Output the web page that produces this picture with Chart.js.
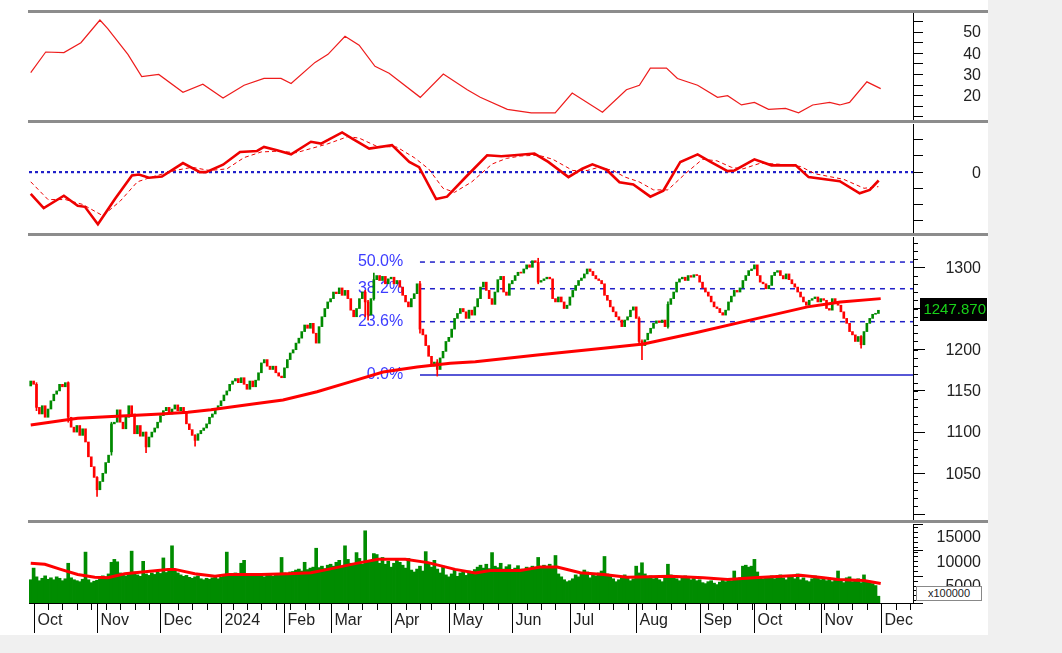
<!DOCTYPE html>
<html>
<head>
<meta charset="utf-8">
<script src="https://cdn.jsdelivr.net/npm/chart.js@4.4.1/dist/chart.umd.min.js"></script>
<style>
  body { margin: 0; width: 1062px; height: 653px; background: #f0f0f0; overflow: hidden; font-family: "Liberation Sans", Arial, sans-serif; }
  #sheet { position: absolute; left: 0; top: 0; width: 988px; height: 635px; background: #fff; }
  .sep { position: absolute; left: 28px; width: 960px; height: 3px; background: #8c8c8c; }
  .pane { position: absolute; left: 29px; width: 959px; }
  #unit { position: absolute; left: 916px; top: 586px; width: 64px; height: 13px; border: 1px solid #888; background: #fff;
          font-size: 11px; line-height: 13px; text-align: center; color: #222; }
</style>
</head>
<body>
<div id="sheet"></div>
<div class="sep" style="top:10px"></div>
<div class="pane" style="top:13px;height:107px"><canvas id="topChart"></canvas></div>
<div class="sep" style="top:120px"></div>
<div class="pane" style="top:124px;height:109px"><canvas id="macdChart"></canvas></div>
<div class="sep" style="top:233px"></div>
<div class="pane" style="top:237px;height:283px"><canvas id="priceChart"></canvas></div>
<div class="sep" style="top:520px"></div>
<div class="pane" style="top:524px;height:111px"><canvas id="volChart"></canvas></div>
<div id="unit">x100000</div>

<script>
const FONT = '"Liberation Sans", Arial, sans-serif';
const X_MIN = -0.6, X_MAX = 306;

// x axis: bar index of the first session of each month, and of each Monday
const monthLabels = ['Oct', 'Nov', 'Dec', '2024', 'Feb', 'Mar', 'Apr', 'May', 'Jun', 'Jul', 'Aug', 'Sep', 'Oct', 'Nov', 'Dec'];
const monthIdx = [1, 23, 45, 66, 88, 104, 125, 145, 167, 187, 210, 232, 251, 274, 295];
const weekIdx = [6, 11, 16, 21, 26, 31, 36, 41, 51, 56, 61, 70, 75, 80, 85, 90, 95, 100, 110, 115, 120,
  130, 135, 139, 147, 152, 157, 162, 172, 177, 182, 192, 197, 202, 207, 212, 217, 222, 227,
  235, 240, 245, 250, 255, 260, 265, 270, 275, 280, 285, 290, 300, 305];

// daily candles
const opens = [
  1156, 1162, 1158, 1130, 1122, 1132, 1118, 1128, 1138, 1146, 1150, 1158, 1155,
  1160, 1118, 1106, 1100, 1108, 1096, 1104, 1088, 1070, 1058, 1045, 1030, 1040, 1050, 1063,
  1076, 1110, 1112, 1127, 1112, 1104, 1118, 1132, 1122, 1098, 1108, 1095, 1100, 1082, 1094, 1100, 1105, 1112, 1120, 1126, 1130, 1122, 1128, 1133, 1126, 1130,
  1124, 1110, 1103, 1096, 1090, 1098, 1102, 1105, 1110, 1118, 1122, 1128, 1132, 1138, 1145, 1150, 1158, 1162, 1165, 1160, 1166, 1158, 1152, 1162,
  1155, 1163, 1172, 1184, 1188, 1180, 1176, 1180, 1172, 1168, 1166, 1178, 1188, 1196, 1200, 1208, 1214, 1222, 1230, 1226, 1232, 1220,
  1208, 1228, 1240, 1250, 1258, 1262, 1270, 1268, 1275, 1266, 1272, 1262, 1248, 1240, 1250, 1262, 1270, 1258, 1242, 1262, 1285, 1290, 1284, 1289, 1280, 1286, 1288, 1280, 1284, 1276, 1266, 1258, 1252, 1262, 1268,
  1280, 1225, 1218, 1205, 1192, 1180, 1185, 1176, 1190, 1198, 1210, 1215, 1225, 1238, 1244, 1250, 1246, 1238, 1248, 1242,
  1252, 1262, 1276, 1282, 1272, 1262, 1255, 1270, 1285, 1289, 1270, 1266, 1280, 1284, 1290, 1294, 1293, 1298, 1303, 1300, 1308, 1306, 1282, 1284, 1286, 1288,
  1286, 1262, 1258, 1264, 1258, 1250, 1254, 1264, 1272, 1278, 1284, 1287, 1292, 1298, 1295, 1290, 1286, 1284, 1280, 1266, 1260, 1252, 1246, 1240, 1236, 1228, 1236, 1240, 1248, 1252, 1238, 1210, 1205, 1212, 1220, 1226, 1232, 1235, 1233, 1236, 1228, 1255, 1262, 1270, 1282, 1286, 1288, 1284, 1290, 1288,
  1291, 1290, 1282, 1275, 1270, 1265, 1258, 1252, 1250, 1245, 1242, 1248, 1258, 1265, 1272, 1270, 1275, 1284, 1290, 1296, 1298, 1303, 1290, 1282, 1280, 1274, 1278, 1290, 1294, 1296, 1290, 1286, 1292, 1285, 1280, 1276, 1270, 1264, 1258, 1254, 1260, 1262, 1264, 1258, 1262, 1260, 1250, 1248, 1262, 1256, 1254, 1246, 1238, 1232, 1222, 1218, 1210, 1216, 1206, 1222, 1232, 1238, 1243, 1244
];
const closes = [
  1162, 1158, 1130, 1122, 1132, 1118, 1128, 1138, 1146, 1150, 1158, 1155, 1160,
  1118, 1106, 1100, 1108, 1096, 1104, 1088, 1070, 1058, 1045, 1030, 1040, 1050, 1063, 1072,
  1110, 1112, 1127, 1112, 1104, 1118, 1132, 1122, 1098, 1108, 1095, 1100, 1082, 1094, 1100, 1105, 1112, 1120, 1126, 1130, 1122, 1128, 1133, 1126, 1130, 1124,
  1110, 1103, 1096, 1090, 1098, 1102, 1105, 1110, 1118, 1122, 1128, 1132, 1138, 1145, 1150, 1158, 1162, 1165, 1160, 1166, 1158, 1152, 1162, 1155,
  1163, 1172, 1184, 1188, 1180, 1176, 1180, 1172, 1168, 1166, 1178, 1188, 1196, 1200, 1208, 1214, 1222, 1230, 1226, 1232, 1220, 1208,
  1228, 1240, 1250, 1258, 1262, 1270, 1268, 1275, 1266, 1272, 1262, 1248, 1240, 1250, 1262, 1270, 1258, 1242, 1262, 1285, 1290, 1284, 1289, 1280, 1286, 1288, 1280, 1284, 1276, 1266, 1258, 1252, 1262, 1268, 1280,
  1225, 1218, 1205, 1192, 1180, 1185, 1176, 1190, 1198, 1210, 1215, 1225, 1238, 1244, 1250, 1246, 1238, 1248, 1242, 1252,
  1262, 1276, 1282, 1272, 1262, 1255, 1270, 1285, 1289, 1270, 1266, 1280, 1284, 1290, 1294, 1293, 1298, 1303, 1300, 1308, 1306, 1282, 1284, 1286, 1288, 1286,
  1262, 1258, 1264, 1258, 1250, 1254, 1264, 1272, 1278, 1284, 1287, 1292, 1298, 1295, 1290, 1286, 1284, 1280, 1266, 1260, 1252, 1246, 1240, 1236, 1228, 1236, 1240, 1248, 1252, 1238, 1210, 1205, 1212, 1220, 1226, 1232, 1235, 1233, 1236, 1228, 1255, 1262, 1270, 1282, 1286, 1288, 1284, 1290, 1288, 1291,
  1290, 1282, 1275, 1270, 1265, 1258, 1252, 1250, 1245, 1242, 1248, 1258, 1265, 1272, 1270, 1275, 1284, 1290, 1296, 1298, 1303, 1290, 1282, 1280, 1274, 1278, 1290, 1294, 1296, 1290, 1286, 1292, 1285, 1280, 1276, 1270, 1264, 1258, 1254, 1260, 1262, 1264, 1258, 1262, 1260, 1250, 1248, 1262, 1256, 1254, 1246, 1238, 1232, 1222, 1218, 1210, 1216, 1206, 1222, 1232, 1238, 1243, 1244, 1247.87
];
// the longer shadows that stand out: [bar, low, high]
const wicks = [[2, 1126, 1160], [13, 1112, 1161], [23, 1022, 1046], [28, 1072, 1112], [40, 1075, 1100],
  [57, 1083, 1097], [116, 1240, 1272], [117, 1236, 1260], [119, 1260, 1293], [135, 1220, 1283],
  [141, 1168, 1188], [176, 1280, 1311], [211, 1206, 1240], [212, 1188, 1212], [221, 1226, 1258], [288, 1202, 1217]];

// volume, x100000
const volumes = [
  6200, 8600, 6800, 6000, 6500, 7000,
  6300, 6600, 6200, 6800, 6500, 6000, 6400, 9600, 6600, 6200,
  6000, 5800, 6300, 11900, 6200, 5600, 5900, 6100, 6400,
  7000, 6800, 7400, 9800, 10400, 9900, 7600, 7200, 7000,
  7600, 12100, 7800, 7200, 6900, 10000, 7400,
  7100, 7600, 7300, 7800, 7500, 10700, 7700, 8000, 13200, 8200,
  7600, 7200, 6900, 7100, 6700, 6500, 6800, 7000,
  6400, 6200, 6500, 6300, 6600, 6800, 6400, 6700, 7100, 11900,
  7400, 7200, 7600, 7000, 9600, 10200, 7300, 7100, 7500, 6900, 7200, 7000,
  6800, 7200, 7400, 6900, 7300, 7100, 10800, 7600, 7400, 7800,
  7900, 8200, 8400, 8000, 9800, 8300, 8600, 8800, 12700, 8700, 9000, 8500, 9200, 9400,
  9000, 9800, 10200, 8800, 13200, 10400, 9600, 9200, 11800, 10600, 9400,
  16300,
  10200, 9800, 11600, 11400, 9600, 10800, 9400, 10000, 8800, 9600, 10400, 9800,
  9200, 8600, 10600, 8200, 7800, 8400, 9000, 8000, 12000, 9600, 8800, 10200,
  8400, 7600, 9000, 7200, 6800, 7400, 8200, 6900, 7600, 7800, 7100, 8000, 7500, 8300,
  8800, 9200, 8600, 9400, 8500, 11800, 9000, 8700, 9600, 8400, 8900, 9300, 8200, 8600, 9100, 8400,
  8300, 8800, 8500, 9000, 8700, 10800, 8600, 9200, 8900, 9400, 8600, 11200, 7400, 6800, 6200, 5800,
  6000, 6400, 7200, 6800, 7600, 8200, 7800, 6600, 7400, 7000, 7600, 8000, 11000, 7400,
  7000, 6400, 5800, 6200, 6600, 7200, 6800, 6000, 6400, 9000, 7600, 9700, 7400, 6600,
  7000, 6400, 6800, 6200, 5800, 6600, 9400, 7200, 6800, 6400, 6000, 6600, 7000, 6800, 6200, 6500,
  6000, 6200, 5600, 5400, 5800, 6000, 5500, 5200, 5700, 6100, 5800, 6300, 6000, 8000, 6400,
  6600, 9000, 9200, 8800, 9000, 10400, 7800, 6600, 6400, 6800,
  6600, 7000, 6400, 6800, 7200, 6600, 6200, 7000, 6800, 6400, 7400, 6200, 6600, 6000, 5800, 6400, 7000, 6800, 6200, 6600,
  6000, 6400, 5800, 6200, 8000, 6000, 5600, 6600, 6800, 5800, 6200, 6400, 5600, 7200, 6000, 5800, 5400, 5000, 2800
];

// indicator lines read as [bar, value]
const ma200 = [[0, 1108.6], [16.3, 1116.7], [45.1, 1122], [54.5, 1124], [62.5, 1127], [77.1, 1134], [87.5, 1139],
  [99.3, 1149], [110.8, 1161], [122.2, 1173], [134, 1179], [145.5, 1183.5], [154.2, 1185.5], [175.7, 1193.6],
  [198.6, 1201.7], [212.5, 1207], [230.6, 1220.6], [252.1, 1238], [269.4, 1252], [277.4, 1256], [280.9, 1258], [294.8, 1262]];
const volMa = [[0, 9583], [4.9, 9375], [10.4, 8333], [16.3, 7291], [22.2, 6730], [26.7, 6600], [32.6, 7437], [39.6, 7854],
  [47.6, 8333], [50, 8333], [56.9, 7437], [63.9, 6937], [68.4, 7291], [79.9, 7291], [89.2, 7437], [97.2, 7645],
  [103.1, 8333], [112.5, 9520], [120.5, 10416], [129.9, 10416], [137.8, 9729], [147.2, 8333], [154.2, 7600],
  [159.4, 8125], [169.8, 8125], [176.7, 8812], [182.6, 8812], [190.6, 7645], [198.6, 7291], [206.9, 6730],
  [221.9, 6937], [233.3, 6600], [241.7, 6250], [250.7, 6600], [267, 7145], [275, 6600], [279.9, 6250],
  [288.9, 6041], [294.8, 5416]];
const topLine = [[0, 30.9], [5.2, 40.6], [11.5, 40.3], [17.4, 45], [24, 55.7], [26.7, 51.6], [33.7, 39.5], [38.5, 29],
  [44.4, 30], [52.8, 21.6], [59.7, 25.4], [66.7, 18.9], [74, 24.9], [80.9, 28.1], [86.8, 28.1], [90.3, 25.7],
  [98.6, 35.7], [103.1, 39.5], [109, 48], [113.9, 43.8], [119.4, 33.8], [124.3, 30.6], [135.1, 19.2], [143.1, 30.2],
  [151.4, 22.8], [155.9, 19.2], [165.3, 13.5], [173.6, 11.9], [181.9, 11.9], [187.8, 21.2], [198.3, 12.2],
  [206.6, 22.8], [211.1, 24.9], [214.9, 33], [220.5, 33], [224.3, 28.1], [231.3, 24.9], [238.2, 19.2], [241.7, 20],
  [246.5, 15.6], [251, 16.8], [255.9, 13.5], [261.8, 14], [266.3, 11.9], [271.2, 15.6], [277.1, 16.8],
  [280.6, 15.6], [284, 16.8], [290, 26.5], [294.8, 23.3]];
const macdLine = [[0, -13.5], [4.5, -22.3], [11.5, -14.6], [16.3, -20.8], [18.8, -21.5], [23.3, -32.3], [29.2, -16.7],
  [35.1, -2.1], [37.5, -1.5], [41, -3.5], [45.5, -2.7], [52.8, 5.6], [58.7, 0], [60.8, 0], [66.7, 4.6], [72.6, 12.5],
  [78.5, 13.1], [80.9, 15.6], [85.4, 13.5], [90.3, 11], [97.2, 18.8], [100.7, 17.7], [108, 24.6], [111.5, 20.8],
  [117.4, 14.6], [125.3, 16.7], [131.3, 6.3], [134.7, 3.1], [140.6, -16.7], [144.4, -15.2], [151.4, -2.1],
  [158.3, 10.4], [163.2, 9.8], [167.7, 10.4], [174.7, 11.5], [179.5, 6.3], [186.5, -3.1], [191.3, 2.1],
  [194.8, 4.8], [199.7, 1.5], [204.2, -6.3], [209, -7.7], [214.9, -15.2], [219.4, -11.5], [225.3, 6.3],
  [231.3, 11], [235.8, 6.3], [241.7, 0.6], [244.1, 1], [251, 7.9], [256.9, 4.2], [265.3, 4.2], [269.8, -3.1],
  [280.6, -5.6], [287.5, -13.1], [291, -11], [294.1, -5.2]];
const signalLine = [[0, -6], [6, -17], [12, -17], [18, -20], [25, -27], [31, -18], [37, -6], [42, -3], [50, 1], [56, 3],
  [62, 1], [68, 2], [74, 9], [80, 12.5], [86, 13], [92, 12], [98, 15], [103, 17.5], [110, 22], [114, 21], [120, 16],
  [127, 15.5], [133, 9], [138, 2], [143, -10], [147, -12.5], [153, -6], [160, 5], [165, 8.5], [170, 10], [176, 10.5],
  [181, 8], [188, 1], [193, 1], [197, 3], [202, 1], [206, -3], [211, -6], [216, -11], [221, -11], [227, -1], [233, 8],
  [238, 7], [243, 3], [247, 2], [253, 5.5], [259, 5], [267, 3.5], [272, -1], [282, -4.5], [289, -10], [294, -9]];

// Fibonacci retracement drawn from the April low
const fibLevels = [1306.4, 1274.0, 1234.0, 1169.3];
const fibLabels = ['50.0%', '38.2%', '23.6%', '0.0%'];
const fibStart = 135;
const fibLabelAt = 129.2;
const lastLabel = '1247.870';

// axis labels
const topTicks = [20, 30, 40, 50];
const macdTicks = [0];
const priceTicks = [1050, 1100, 1150, 1200, 1250, 1300];
const volTicks = [5000, 10000, 15000];

const UP = '#008a00', DOWN = '#ff0000', RED = '#ff0000', FIB = '#1f1fc8';
const pts = arr => arr.map(([x, y]) => ({ x, y }));

// labels of the right axes, right aligned
Chart.register({
  id: 'axisText',
  afterDraw(chart, args, o) {
    if (!o.values) return;
    const s = chart.scales.y, ctx = chart.ctx;
    ctx.save();
    ctx.font = '16px ' + FONT;
    ctx.fillStyle = '#222';
    ctx.textAlign = 'right';
    ctx.textBaseline = 'middle';
    o.values.forEach(v => ctx.fillText(String(v), chart.width - 7, s.getPixelForValue(v) + 1));
    ctx.restore();
  }
});
// short in-between ticks
Chart.register({
  id: 'minorTicks',
  afterDraw(chart, args, o) {
    if (!o.step) return;
    const s = chart.scales.y, ctx = chart.ctx;
    ctx.save();
    ctx.strokeStyle = '#000';
    ctx.lineWidth = 1;
    for (let v = Math.ceil(s.min / o.step) * o.step; v <= s.max; v += o.step) {
      const y = Math.round(s.getPixelForValue(v)) + 0.5;
      ctx.beginPath();
      ctx.moveTo(s.left, y);
      ctx.lineTo(s.left + o.len, y);
      ctx.stroke();
    }
    ctx.restore();
  }
});

function baseOptions(min, max, step, tickLen) {
  return {
    responsive: true,
    maintainAspectRatio: false,
    animation: false,
    layout: { padding: 0 },
    plugins: { legend: { display: false }, tooltip: { enabled: false } },
    scales: {
      x: { type: 'linear', min: X_MIN, max: X_MAX, display: false, offset: false },
      y: {
        position: 'right', min, max,
        afterFit: s => { s.width = 75; },
        border: { color: '#000', width: 1 },
        grid: { drawOnChartArea: false, tickLength: tickLen, tickColor: '#000', color: '#000' },
        ticks: { stepSize: step, includeBounds: false, display: false }
      }
    }
  };
}

function lineSet(data, color, width, dash) {
  return { type: 'line', data: pts(data), borderColor: color, borderWidth: width, borderDash: dash || [],
           pointRadius: 0, tension: 0, fill: false };
}

// top panel
const topOpts = baseOptions(8.5, 59, 5, 10);
topOpts.plugins.axisText = { values: topTicks };
new Chart(document.getElementById('topChart'), {
  type: 'line',
  data: { datasets: [lineSet(topLine, '#ee1c1c', 1.2)] },
  options: topOpts
});

// MACD panel
const macdOpts = baseOptions(-37.7, 29.8, 10, 10);
macdOpts.plugins.axisText = { values: macdTicks };
new Chart(document.getElementById('macdChart'), {
  type: 'line',
  data: {
    datasets: [
      lineSet(macdLine, '#ee0000', 2.6),
      lineSet(signalLine, '#ee0000', 1, [4, 3]),
      lineSet([[X_MIN, 0], [X_MAX, 0]], FIB, 2.2, [3, 3])
    ]
  },
  options: macdOpts
});

// price panel
const candleColor = closes.map((c, i) => (c >= opens[i] ? UP : DOWN));
const priceOpts = baseOptions(993.3, 1336.8, 50, 12);
priceOpts.plugins.axisText = { values: priceTicks };
priceOpts.plugins.minorTicks = { step: 10, len: 5 };
new Chart(document.getElementById('priceChart'), {
  type: 'bar',
  data: {
    datasets: [
      lineSet(ma200, RED, 3),
      { data: closes.map((c, i) => ({ x: i, y: [opens[i], c] })), backgroundColor: candleColor,
        barThickness: 2, minBarLength: 1, grouped: false },
      { data: wicks.map(([i, lo, hi]) => ({ x: i, y: [lo, hi] })), backgroundColor: wicks.map(([i]) => candleColor[i]),
        barThickness: 1, grouped: false },
      ...fibLevels.map((v, k) => lineSet([[fibStart, v], [X_MAX, v]], FIB, 1.5, k === 3 ? [] : [5, 5]))
    ]
  },
  options: priceOpts,
  plugins: [{
    id: 'fibText',
    beforeDatasetsDraw(chart) {
      const { ctx, scales } = chart;
      ctx.save();
      ctx.font = '16px ' + FONT;
      ctx.fillStyle = '#3c3cff';
      ctx.textAlign = 'right';
      ctx.textBaseline = 'middle';
      fibLevels.forEach((v, k) => ctx.fillText(fibLabels[k], scales.x.getPixelForValue(fibLabelAt), scales.y.getPixelForValue(v)));
      ctx.restore();
    },
    afterDraw(chart) {
      const { ctx, scales } = chart;
      const y = scales.y.getPixelForValue(closes[closes.length - 1]);
      ctx.save();
      ctx.fillStyle = '#000';
      ctx.fillRect(chart.width - 68, Math.round(y) - 12, 67, 23);
      ctx.font = '15px ' + FONT;
      ctx.fillStyle = '#19d219';
      ctx.textAlign = 'right';
      ctx.textBaseline = 'middle';
      ctx.fillText(lastLabel, chart.width - 2, y);
      ctx.restore();
    }
  }]
});

// volume panel with the date axis under it
const volOpts = baseOptions(1400, 17700, 5000, 10);
volOpts.layout.padding = { bottom: 32 };
volOpts.plugins.axisText = { values: volTicks };
volOpts.plugins.minorTicks = { step: 1000, len: 5 };
new Chart(document.getElementById('volChart'), {
  type: 'bar',
  data: {
    datasets: [
      lineSet(volMa, RED, 3),
      { data: volumes.map((v, i) => ({ x: i, y: v })), backgroundColor: '#008c00', barThickness: 3, grouped: false }
    ]
  },
  options: volOpts,
  plugins: [{
    id: 'dateAxis',
    afterDraw(chart) {
      const { ctx, chartArea: a, scales } = chart;
      const px = i => Math.round(scales.x.getPixelForValue(i)) + 0.5;
      ctx.save();
      ctx.beginPath();
      ctx.rect(0, a.bottom, a.right, 40);
      ctx.clip();
      ctx.strokeStyle = '#000';
      ctx.lineWidth = 1;
      ctx.beginPath();
      ctx.moveTo(a.left, a.bottom + 0.5);
      ctx.lineTo(a.right, a.bottom + 0.5);
      weekIdx.forEach(i => { ctx.moveTo(px(i), a.bottom); ctx.lineTo(px(i), a.bottom + 7); });
      monthIdx.forEach(i => { ctx.moveTo(px(i), a.bottom); ctx.lineTo(px(i), a.bottom + 30); });
      ctx.stroke();
      ctx.font = '16px ' + FONT;
      ctx.fillStyle = '#222';
      ctx.textBaseline = 'middle';
      monthIdx.forEach((i, k) => ctx.fillText(monthLabels[k], px(i) + 3, a.bottom + 18));
      ctx.restore();
    }
  }]
});
</script>
</body>
</html>
